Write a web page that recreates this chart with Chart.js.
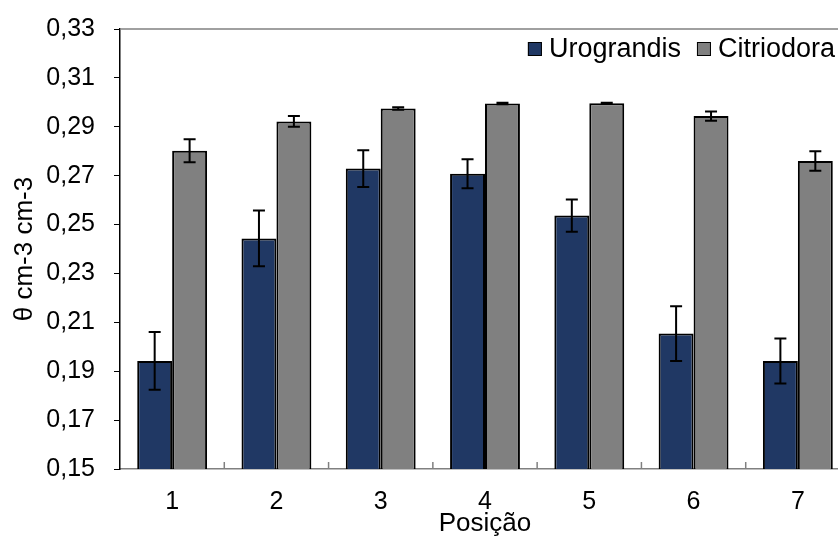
<!DOCTYPE html>
<html>
<head>
<meta charset="utf-8">
<script src="https://cdn.jsdelivr.net/npm/chart.js@4.4.0/dist/chart.umd.min.js"></script>
<style>
  html, body { margin: 0; padding: 0; background: #fff; }
  #wrap { width: 838px; height: 537px; overflow: hidden; }
</style>
</head>
<body>
<div id="wrap">
  <canvas id="myChart" width="860" height="537"></canvas>
</div>
<script>
const categories = ['1', '2', '3', '4', '5', '6', '7'];
const urograndis = [0.1942, 0.2443, 0.2729, 0.2708, 0.2537, 0.2054, 0.1942];
const urograndisErr = [0.0118, 0.0114, 0.0075, 0.0059, 0.0066, 0.0112, 0.0092];
const citriodora = [0.2802, 0.2922, 0.2975, 0.2995, 0.2996, 0.2944, 0.2760];
const citriodoraErr = [0.0047, 0.0022, 0.0005, 0.0003, 0.0002, 0.0019, 0.0040];
const yTicks = [0.15, 0.17, 0.19, 0.21, 0.23, 0.25, 0.27, 0.29, 0.31, 0.33];

const FONT = "'Liberation Sans', Arial, sans-serif";

// error bars, inner x ticks, top border and legend
const extras = {
  id: 'extras',
  afterDatasetsDraw(chart) {
    const ctx = chart.ctx;
    const y = chart.scales.y;
    const x = chart.scales.x;
    const area = chart.chartArea;
    const errs = [urograndisErr, citriodoraErr];

    ctx.save();
    ctx.strokeStyle = '#000';
    ctx.lineWidth = 2;
    chart.data.datasets.forEach((ds, di) => {
      const meta = chart.getDatasetMeta(di);
      meta.data.forEach((bar, i) => {
        const v = ds.data[i];
        const e = errs[di][i];
        const top = y.getPixelForValue(v + e);
        const bot = y.getPixelForValue(v - e);
        ctx.beginPath();
        ctx.moveTo(bar.x, top);
        ctx.lineTo(bar.x, bot);
        ctx.moveTo(bar.x - 6, top);
        ctx.lineTo(bar.x + 6, top);
        ctx.moveTo(bar.x - 6, bot);
        ctx.lineTo(bar.x + 6, bot);
        ctx.stroke();
      });
    });

    // tick marks between categories, pointing up
    ctx.strokeStyle = '#808080';
    ctx.lineWidth = 1.5;
    for (let i = 1; i < categories.length; i++) {
      const px = (x.getPixelForTick(i - 1) + x.getPixelForTick(i)) / 2;
      ctx.beginPath();
      ctx.moveTo(px, area.bottom);
      ctx.lineTo(px, area.bottom - 7);
      ctx.stroke();
    }

    // top border of plot area
    ctx.beginPath();
    ctx.moveTo(area.left, area.top);
    ctx.lineTo(area.right, area.top);
    ctx.stroke();

    // legend
    ctx.font = '27px ' + FONT;
    ctx.textBaseline = 'middle';
    ctx.textAlign = 'left';
    const items = chart.data.datasets.map(ds => ({
      label: ds.label, color: ds.backgroundColor, w: ctx.measureText(ds.label).width
    }));
    let total = 0;
    items.forEach((it, i) => { total += 14 + 7 + it.w + (i < items.length - 1 ? 16 : 0); });
    let lx = area.right - 15 - total;
    const ly = 49;
    items.forEach(it => {
      ctx.fillStyle = it.color;
      ctx.fillRect(lx, ly - 7, 14, 14);
      ctx.strokeStyle = '#000';
      ctx.lineWidth = 1;
      ctx.strokeRect(lx + 0.5, ly - 6.5, 13, 13);
      lx += 14 + 7;
      ctx.fillStyle = '#000';
      ctx.fillText(it.label, lx, ly + 1);
      lx += it.w + 16;
    });
    ctx.restore();
  }
};

const config = {
  type: 'bar',
  data: {
    labels: categories,
    datasets: [{
      label: 'Urograndis',
      data: urograndis,
      backgroundColor: '#203864',
      borderColor: '#000',
      borderWidth: 2,
      borderSkipped: false
    }, {
      label: 'Citriodora',
      data: citriodora,
      backgroundColor: '#808080',
      borderColor: '#000',
      borderWidth: 2,
      borderSkipped: false
    }]
  },
  options: {
    responsive: false,
    animation: false,
    layout: {
      padding: { left: 0, right: 10, top: 29, bottom: 0 }
    },
    datasets: {
      bar: { barPercentage: 1, categoryPercentage: 0.67 }
    },
    plugins: {
      legend: { display: false },
      tooltip: { enabled: false }
    },
    scales: {
      x: {
        grid: { display: true, drawOnChartArea: false, drawTicks: false },
        border: { color: '#808080', width: 1.5 },
        ticks: {
          color: '#000',
          padding: 18,
          font: { family: FONT, size: 25 }
        },
        title: {
          display: true,
          text: 'Posição',
          color: '#000',
          padding: { top: 0, bottom: -2 },
          font: { family: FONT, size: 26 }
        },
        afterFit(scale) { scale.height = 68; }
      },
      y: {
        min: 0.15,
        max: 0.33,
        afterBuildTicks(scale) { scale.ticks = yTicks.map(v => ({ value: v })); },
        grid: { display: true, drawOnChartArea: false, drawTicks: true, tickLength: 6, color: '#000' },
        border: { color: '#000', width: 1.5 },
        ticks: {
          color: '#000',
          padding: 19,
          font: { family: FONT, size: 25 },
          callback: v => v.toFixed(2).replace('.', ',')
        },
        title: {
          display: true,
          text: 'θ cm-3 cm-3',
          color: '#000',
          padding: { top: 9, bottom: 0 },
          font: { family: FONT, size: 26 }
        },
        afterFit(scale) {
          scale.width = 120;
          scale.paddingTop = 0;
          scale.paddingBottom = 0;
        }
      }
    }
  },
  plugins: [extras]
};

new Chart(document.getElementById('myChart'), config);
</script>
</body>
</html>
